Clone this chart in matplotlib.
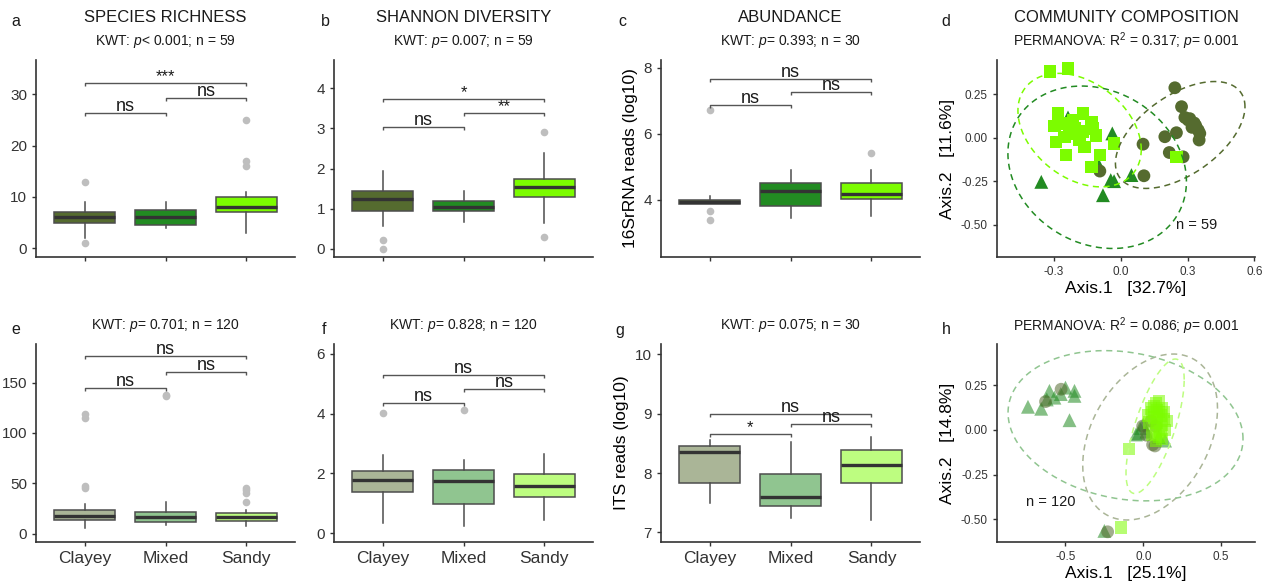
import matplotlib
matplotlib.use('Agg')
import matplotlib.pyplot as plt
import numpy as np

plt.rcParams['font.family'] = ['Liberation Sans', 'DejaVu Sans']
plt.rcParams['mathtext.fontset'] = 'custom'
plt.rcParams['mathtext.rm'] = 'Liberation Sans'
plt.rcParams['mathtext.it'] = 'Liberation Sans:italic'

W, H = 1266, 586

# ---------------- data ----------------
categories = ['Clayey', 'Mixed', 'Sandy']
col_dark = ['#556B2F', '#228B22', '#7CFC00']
col_light = ['#AAB597', '#90C590', '#BDFD80']

# box stats: q1, median, q3, whisker low, whisker high, outliers
a_q1 = [5.0, 4.6, 7.0]; a_med = [6.0, 6.0, 8.0]; a_q3 = [7.0, 7.5, 10.0]
a_lo = [2.0, 4.0, 3.0]; a_hi = [9.0, 9.0, 11.0]; a_out = [[13, 1], [], [25, 17, 16]]
a_brackets = [(1, 2, 26.4, 'ns'), (2, 3, 29.3, 'ns'), (1, 3, 32.2, '***')]

b_q1 = [0.94, 0.94, 1.28]; b_med = [1.24, 1.05, 1.53]; b_q3 = [1.43, 1.19, 1.74]
b_lo = [0.56, 0.67, 0.65]; b_hi = [1.93, 1.43, 2.39]; b_out = [[0.22, 0.0], [], [2.9, 0.28]]
b_brackets = [(1, 2, 3.04, 'ns'), (2, 3, 3.39, '**'), (1, 3, 3.74, '*')]

c_q1 = [3.87, 3.81, 4.01]; c_med = [3.94, 4.27, 4.18]; c_q3 = [4.0, 4.51, 4.52]
c_lo = [3.87, 3.45, 3.50]; c_hi = [4.13, 4.89, 4.91]; c_out = [[6.72, 3.67, 3.38], [], [5.41]]
c_brackets = [(1, 2, 6.87, 'ns'), (2, 3, 7.27, 'ns'), (1, 3, 7.66, 'ns')]

e_q1 = [13.3, 12.0, 13.0]; e_med = [17.7, 17.0, 16.7]; e_q3 = [23.0, 21.7, 20.0]
e_lo = [6.0, 8.3, 8.0]; e_hi = [29.0, 31.3, 23.0]
e_out = [[119, 114.7, 47.7, 45.7], [137.7, 136.3], [45, 43, 40.7, 31]]
e_brackets = [(1, 2, 145, 'ns'), (2, 3, 160.7, 'ns'), (1, 3, 176.3, 'ns')]

f_q1 = [1.36, 0.98, 1.20]; f_med = [1.78, 1.73, 1.56]; f_q3 = [2.09, 2.11, 1.99]
f_lo = [0.33, 0.22, 0.44]; f_hi = [2.61, 2.44, 2.64]; f_out = [[4.01], [4.13], []]
f_brackets = [(1, 2, 4.36, 'ns'), (2, 3, 4.82, 'ns'), (1, 3, 5.29, 'ns')]

g_q1 = [7.83, 7.45, 7.84]; g_med = [8.36, 7.59, 8.14]; g_q3 = [8.46, 7.98, 8.39]
g_lo = [7.49, 7.24, 7.21]; g_hi = [8.55, 8.53, 8.61]; g_out = [[], [], []]
g_brackets = [(1, 2, 8.66, '*'), (2, 3, 8.83, 'ns'), (1, 3, 9.0, 'ns')]

# PCoA (panel d, bacteria)
d_clay_x = [0.243, 0.273, 0.288, 0.303, 0.330, 0.337, 0.348, 0.355, 0.352, 0.250,
            0.198, 0.100, 0.218, 0.280, 0.104, -0.094, 0.310, 0.320]
d_clay_y = [0.288, 0.179, 0.117, 0.102, 0.085, 0.069, 0.044, 0.025, -0.013, 0.029,
            0.006, -0.037, -0.085, -0.110, -0.219, -0.192, 0.110, 0.060]
d_mix_x = [-0.237, -0.038, -0.357, -0.045, -0.080, 0.048, -0.099, -0.030]
d_mix_y = [0.117, 0.025, -0.254, -0.244, -0.331, -0.215, -0.158, -0.250]
d_sand_x = [-0.319, -0.237, -0.282, -0.170, -0.297, -0.260, -0.207, -0.200, -0.132,
            -0.125, -0.290, -0.252, -0.185, -0.162, -0.110, -0.245, -0.094, -0.132,
            -0.030, 0.250, -0.215, -0.170, -0.230]
d_sand_y = [0.381, 0.400, 0.140, 0.140, 0.067, 0.083, 0.054, 0.035, 0.088,
            0.054, -0.023, 0.006, -0.013, -0.052, 0.012, -0.100, -0.100, -0.167,
            -0.033, -0.110, 0.100, 0.035, 0.020]
# ellipses: centre x, centre y, x half-range, y half-range, phase (deg)
d_ellipses = [(0.267, 0.016, 0.291, 0.308, 58), (-0.106, -0.170, 0.401, 0.468, 100),
              (-0.185, 0.044, 0.277, 0.327, 110)]

# PCoA (panel h, fungi)
h_clay_x = [-0.628, -0.528, -0.004, 0.060, 0.075, -0.229, 0.020, 0.080, 0.050]
h_clay_y = [0.158, 0.227, 0.021, -0.083, -0.090, -0.570, -0.030, 0.020, 0.050]
h_mix_x = [-0.741, -0.656, -0.603, -0.571, -0.620, -0.500, -0.530, -0.442, -0.442,
           -0.474, -0.047, -0.020, 0.000, 0.140, 0.100, -0.250, 0.020, -0.030]
h_mix_y = [0.129, 0.118, 0.218, 0.180, 0.170, 0.236, 0.200, 0.218, 0.190,
           0.054, -0.026, 0.010, 0.030, -0.060, -0.040, -0.565, -0.010, -0.020]
h_sand_x = [0.05, 0.08, 0.10, 0.06, 0.09, 0.12, 0.11, 0.07, 0.13, 0.09, 0.12, 0.08,
            0.11, 0.14, 0.10, 0.06, 0.04, 0.13, 0.03, 0.15, 0.07, 0.10, -0.09,
            -0.143, 0.12, 0.08]
h_sand_y = [0.12, 0.15, 0.16, 0.10, 0.11, 0.12, 0.08, 0.07, 0.06, 0.04, 0.03, 0.01,
            -0.01, 0.00, -0.04, -0.03, 0.04, 0.10, 0.08, 0.05, 0.13, 0.10, -0.107,
            -0.546, -0.05, -0.06]
h_ellipses = [(0.044, -0.040, 0.433, 0.464, 70), (-0.114, 0.023, 0.755, 0.420, 100),
              (0.076, 0.020, 0.187, 0.376, 46)]

titles = ['SPECIES RICHNESS', 'SHANNON DIVERSITY', 'ABUNDANCE', 'COMMUNITY COMPOSITION']
subtitles_top = [r'KWT: $\mathit{p}$< 0.001; n = 59', r'KWT: $\mathit{p}$= 0.007; n = 59',
                 r'KWT: $\mathit{p}$= 0.393; n = 30',
                 r'PERMANOVA: R$^2$ = 0.317; $\mathit{p}$= 0.001']
subtitles_bot = [r'KWT: $\mathit{p}$= 0.701; n = 120', r'KWT: $\mathit{p}$= 0.828; n = 120',
                 r'KWT: $\mathit{p}$= 0.075; n = 30',
                 r'PERMANOVA: R$^2$ = 0.086; $\mathit{p}$= 0.001']

# ---------------- drawing ----------------
fig = plt.figure(figsize=(W / 100, H / 100), dpi=100)

def add_ax(l, t, r, b):
    return fig.add_axes([l / W, 1 - b / H, (r - l) / W, (b - t) / H])

def ftext(x, y, s, **kw):
    fig.text(x / W, 1 - y / H, s, **kw)

SPINE = '#333333'

def style(ax):
    for s in ['top', 'right']:
        ax.spines[s].set_visible(False)
    for s in ['left', 'bottom']:
        ax.spines[s].set_color(SPINE)
        ax.spines[s].set_linewidth(1.2)
    ax.tick_params(colors=SPINE, length=3, width=1)

def boxpanel(ax, q1, med, q3, lo, hi, out, colors, ylim, yticks, brackets, xlabels):
    stats = []
    for i in range(3):
        stats.append(dict(q1=q1[i], med=med[i], q3=q3[i], whislo=lo[i], whishi=hi[i],
                          fliers=out[i]))
    bp = ax.bxp(stats, positions=[1, 2, 3], widths=0.75, patch_artist=True,
                showcaps=False,
                boxprops=dict(edgecolor='#4d4d4d', linewidth=1.1),
                medianprops=dict(color='#333333', linewidth=2.4),
                whiskerprops=dict(color='#4d4d4d', linewidth=1.1),
                flierprops=dict(marker='o', markerfacecolor='#BEBEBE',
                                markeredgecolor='none', markersize=5.5))
    for p, c in zip(bp['boxes'], colors):
        p.set_facecolor(c)
    ax.set_xlim(0.4, 3.6)
    ax.set_ylim(*ylim)
    ax.set_yticks(yticks)
    ax.set_yticklabels([str(t) for t in yticks], fontsize=11, color='#1a1a1a')
    ax.set_xticks([1, 2, 3])
    if xlabels:
        ax.set_xticklabels(categories, fontsize=12.5, color='#1a1a1a')
    else:
        ax.set_xticklabels([])
    style(ax)
    # significance brackets
    bbox = ax.get_position()
    ax_h_px = bbox.height * H
    tip = 3.3 / ax_h_px * (ylim[1] - ylim[0])
    for x1, x2, y, lab in brackets:
        ax.plot([x1, x1, x2, x2], [y - tip, y, y, y - tip], color='#555555', lw=1.0,
                solid_capstyle='butt')
        ax.annotate(lab, xy=((x1 + x2) / 2, y), xytext=(0, 1.2), textcoords='offset points',
                    ha='center', va='baseline', fontsize=13 if lab == 'ns' else 12,
                    color='#1a1a1a')

def ellipse_xy(cx, cy, A, B, phi):
    t = np.linspace(0, 2 * np.pi, 300)
    return cx + A * np.cos(t), cy + B * np.cos(t - np.deg2rad(phi))

def pcoa(ax, cl, mx, sd, ells, alpha, xlim, ylim, xticks, xtl, ytl_vals, xlabel, ylabel,
         ncol):
    ax.scatter(mx[0], mx[1], marker='^', s=100, color=col_dark[1], alpha=alpha,
               edgecolors='none', zorder=3)
    ax.scatter(cl[0], cl[1], marker='o', s=85, color=col_dark[0], alpha=alpha,
               edgecolors='none', zorder=3)
    ax.scatter(sd[0], sd[1], marker='s', s=80, color=col_dark[2], alpha=alpha,
               edgecolors='none', zorder=3)
    for (cx, cy, A, B, phi), c in zip(ells, ncol):
        ex, ey = ellipse_xy(cx, cy, A, B, phi)
        ax.plot(ex, ey, ls=(0, (4, 3)), color=c, lw=1.1, zorder=4)
    ax.set_xlim(*xlim)
    ax.set_ylim(*ylim)
    ax.set_xticks(xticks)
    ax.set_xticklabels(xtl, fontsize=8.5, color='#4d4d4d')
    ax.set_yticks(ytl_vals)
    ax.set_yticklabels(['%.2f' % v for v in ytl_vals], fontsize=8.5, color='#4d4d4d')
    style(ax)
    ax.set_xlabel(xlabel, fontsize=12.5, labelpad=2)
    ax.set_ylabel(ylabel, fontsize=12.5, labelpad=4)

# top row
axa = add_ax(36, 60, 295, 257)
boxpanel(axa, a_q1, a_med, a_q3, a_lo, a_hi, a_out, col_dark, (-1.7, 36.7), [0, 10, 20, 30],
         a_brackets, False)
axb = add_ax(334, 60, 593, 257)
boxpanel(axb, b_q1, b_med, b_q3, b_lo, b_hi, b_out, col_dark, (-0.21, 4.71), [0, 1, 2, 3, 4],
         b_brackets, False)
axc = add_ax(661, 60, 920, 257)
boxpanel(axc, c_q1, c_med, c_q3, c_lo, c_hi, c_out, col_dark, (2.27, 8.23), [4, 6, 8],
         c_brackets, False)
axd = add_ax(997, 60, 1255, 257)
pcoa(axd, (d_clay_x, d_clay_y), (d_mix_x, d_mix_y), (d_sand_x, d_sand_y), d_ellipses, 1.0,
     (-0.556, 0.603), (-0.687, 0.448), [-0.3, 0.0, 0.3, 0.6], ['-0.3', '0.0', '0.3', '0.6'],
     [0.25, 0.0, -0.25, -0.5], 'Axis.1   [32.7%]', 'Axis.2   [11.6%]', col_dark)
axd.text(0.34, -0.504, 'n = 59', fontsize=10.5, ha='center', va='center', color='#1a1a1a')

# bottom row
axe = add_ax(36, 344, 295, 542)
boxpanel(axe, e_q1, e_med, e_q3, e_lo, e_hi, e_out, col_light, (-8.3, 188.3), [0, 50, 100, 150],
         e_brackets, True)
axf = add_ax(334, 344, 593, 542)
boxpanel(axf, f_q1, f_med, f_q3, f_lo, f_hi, f_out, col_light, (-0.3, 6.33), [0, 2, 4, 6],
         f_brackets, True)
axg = add_ax(661, 344, 920, 542)
boxpanel(axg, g_q1, g_med, g_q3, g_lo, g_hi, g_out, col_light, (6.84, 10.17), [7, 8, 9, 10],
         g_brackets, True)
axh = add_ax(997, 344, 1255, 542)
pcoa(axh, (h_clay_x, h_clay_y), (h_mix_x, h_mix_y), (h_sand_x, h_sand_y), h_ellipses, 0.55,
     (-0.94, 0.718), (-0.627, 0.48), [-0.5, 0.0, 0.5], ['-0.5', '0.0', '0.5'],
     [0.25, 0.0, -0.25, -0.5], 'Axis.1   [25.1%]', 'Axis.2   [14.8%]', col_light)
axh.text(-0.592, -0.405, 'n = 120', fontsize=10.5, ha='center', va='center', color='#1a1a1a')

# y labels for abundance panels
axc.set_ylabel('16SrRNA reads (log10)', fontsize=12.5, labelpad=4)
axg.set_ylabel('ITS reads (log10)', fontsize=12.5, labelpad=4)

# titles and subtitles
centers = [165.5, 463.5, 790.5, 1126]
for cx, t, s1, s2 in zip(centers, titles, subtitles_top, subtitles_bot):
    ftext(cx, 17, t, fontsize=12, ha='center', va='center', color='#1a1a1a')
    ftext(cx, 41, s1, fontsize=10, ha='center', va='center', color='#1a1a1a')
    ftext(cx, 326, s2, fontsize=10, ha='center', va='center', color='#1a1a1a')

letters_top = [('a', 16), ('b', 325), ('c', 622), ('d', 946)]
letters_bot = [('e', 16), ('f', 324), ('g', 620), ('h', 946)]
for l, x in letters_top:
    ftext(x, 21, l, fontsize=11.5, ha='center', va='center', color='#1a1a1a')
for l, x in letters_bot:
    ftext(x, 330, l, fontsize=11.5, ha='center', va='center', color='#1a1a1a')

fig.savefig('out.png', dpi=100)
